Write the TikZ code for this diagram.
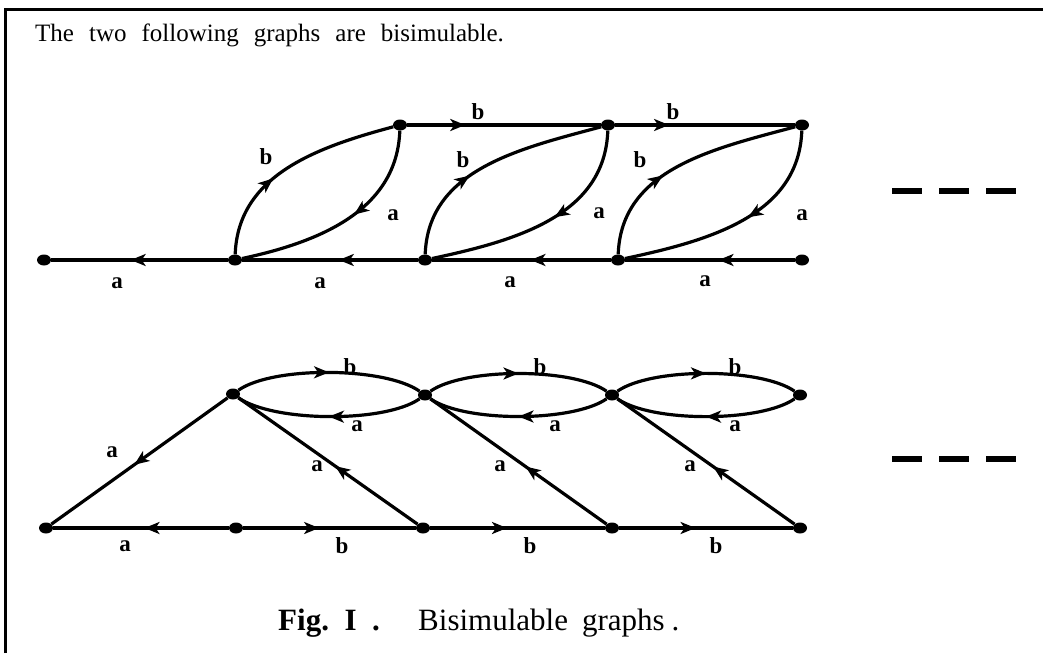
\documentclass[tikz,border=0pt]{standalone}
\usepackage{fontspec}
\setmainfont{Liberation Serif}
\usetikzlibrary{arrows.meta, decorations.markings, shapes.geometric}

\tikzset{
  dot/.style={ellipse, fill=black, inner sep=0pt, minimum width=14pt, minimum height=11pt},
  link/.style={line width=3.2pt},
  midarrow/.style={postaction={decorate},
    decoration={markings, mark=at position #1 with {\arrow{Stealth[length=15pt,width=12pt,inset=4pt]}}}},
  lab/.style={font=\fontsize{23}{25}\selectfont\bfseries, inner sep=0pt},
}

\begin{document}
\begin{tikzpicture}[x=1pt, y=-1pt]
\useasboundingbox (0,0) rectangle (1043,653);
% frame
\draw[line width=3pt] (5,653) -- (5,9) -- (1043,9);
\node[anchor=base west, inner sep=0pt, font=\fontsize{25}{28}\selectfont] (head) at (35,41)
  {\spaceskip=0.6em plus 0.1em The two following graphs are bisimulable.};

% first graph: bottom row u, top row t
\node[dot] (u0) at (44,260) {};
\node[dot] (u1) at (235,260) {};
\node[dot] (u2) at (425,260) {};
\node[dot] (u3) at (618,260) {};
\node[dot] (u4) at (802,260) {};
\node[dot] (t1) at (400,125) {};
\node[dot] (t2) at (608,125) {};
\node[dot] (t3) at (802,125) {};
\draw[link, midarrow=0.55] (u1) -- (u0);
\draw[link, midarrow=0.45] (u2) -- (u1);
\draw[link, midarrow=0.45] (u3) -- (u2);
\draw[link, midarrow=0.45] (u4) -- (u3);
\draw[link, midarrow=0.3] (t1) -- (t2);
\draw[link, midarrow=0.3] (t2) -- (t3);
% leaves
\draw[link, midarrow=0.4] (u1) to[out=88, in=195] (t1);
\draw[link, midarrow=0.45] (t1) to[out=-92, in=12] (u1);
\draw[link, midarrow=0.4] (u2) to[out=88, in=195] (t2);
\draw[link, midarrow=0.45] (t2) to[out=-92, in=12] (u2);
\draw[link, midarrow=0.4] (u3) to[out=88, in=195] (t3);
\draw[link, midarrow=0.45] (t3) to[out=-92, in=12] (u3);
% labels
\node[lab] (la1) at (117,283) {a};
\node[lab] (la2) at (320,283) {a};
\node[lab] (la3) at (510,282) {a};
\node[lab] (la4) at (705,281) {a};
\node[lab] (lb1) at (478,112) {b};
\node[lab] (lb2) at (673,112) {b};
\node[lab] (lb3) at (266,157) {b};
\node[lab] (la5) at (393,215) {a};
\node[lab] (lb4) at (463,160) {b};
\node[lab] (la6) at (599,213) {a};
\node[lab] (lb5) at (640,160) {b};
\node[lab] (la7) at (802,215) {a};

% second graph: top row p, bottom row q
\node[dot] (p1) at (233,394) {};
\node[dot] (p2) at (425,395) {};
\node[dot] (p3) at (612,395) {};
\node[dot] (p4) at (800,395) {};
\node[dot] (q0) at (46,528) {};
\node[dot] (q1) at (236,528) {};
\node[dot] (q2) at (423,528) {};
\node[dot] (q3) at (612,528) {};
\node[dot] (q4) at (800,528) {};
\foreach \a/\b in {p1/p2, p2/p3, p3/p4}{
  \draw[link, midarrow=0.5] (\a) to[out=35, in=145, looseness=0.6] (\b);
  \draw[link, midarrow=0.5] (\b) to[out=-145, in=-35, looseness=0.6] (\a);
}
\draw[link, midarrow=0.53] (p1) -- (q0);
\draw[link, midarrow=0.46] (q2) -- (p1);
\draw[link, midarrow=0.46] (q3) -- (p2);
\draw[link, midarrow=0.46] (q4) -- (p3);
\draw[link, midarrow=0.48] (q1) -- (q0);
\draw[link, midarrow=0.44] (q1) -- (q2);
\draw[link, midarrow=0.44] (q2) -- (q3);
\draw[link, midarrow=0.44] (q3) -- (q4);
% labels
\node[lab] (lb6) at (350,367) {b};
\node[lab] (lb7) at (540,367) {b};
\node[lab] (lb8) at (735,367) {b};
\node[lab] (la8) at (357,426) {a};
\node[lab] (la9) at (555,426) {a};
\node[lab] (la10) at (735,426) {a};
\node[lab] (la11) at (112,452) {a};
\node[lab] (la12) at (317,466) {a};
\node[lab] (la13) at (500,466) {a};
\node[lab] (la14) at (690,466) {a};
\node[lab] (la15) at (125,546) {a};
\node[lab] (lb9) at (342,546) {b};
\node[lab] (lb10) at (530,546) {b};
\node[lab] (lb11) at (716,546) {b};

% continuation dashes
\draw[line width=6pt, dash pattern=on 30pt off 17pt] (892,191) -- (1016,191);
\draw[line width=6pt, dash pattern=on 30pt off 17pt] (892,459) -- (1016,459);

% caption
\node[anchor=base west, inner sep=0pt, font=\fontsize{31}{34}\selectfont\bfseries] (figno) at (278,630)
  {Fig.\ \ I\ \ .};
\node[anchor=base west, inner sep=0pt, font=\fontsize{31}{34}\selectfont] (captext) at (418,630)
  {Bisimulable\hspace{14pt}graphs\hspace{7pt}.};
\end{tikzpicture}
\end{document}
